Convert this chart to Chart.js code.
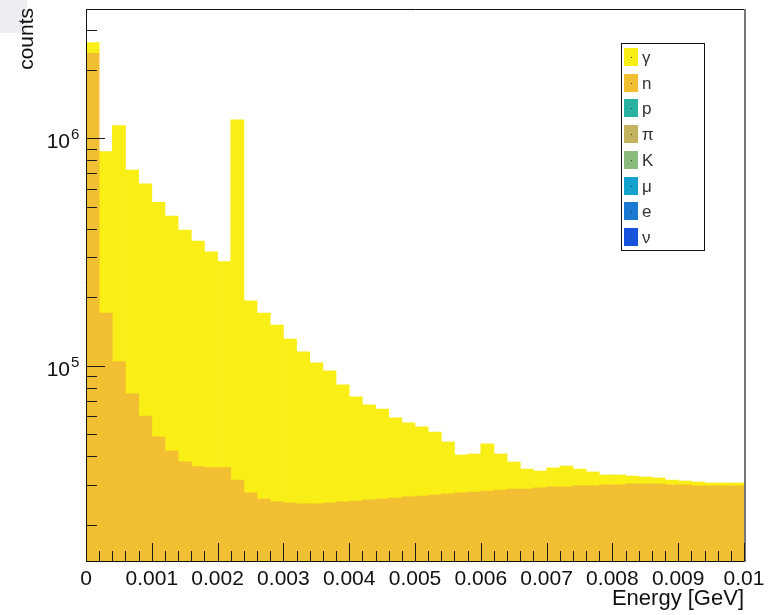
<!DOCTYPE html>
<html>
<head>
<meta charset="utf-8">
<title>Energy spectrum</title>
<script src="https://cdn.jsdelivr.net/npm/chart.js@4.4.1/dist/chart.umd.min.js"></script>
<style>
  html, body { margin: 0; padding: 0; background: #fff; }
  #wrap { position: relative; width: 769px; height: 615px; }
  #corner { position: absolute; left: 0; top: 0; width: 27px; height: 33px; background: #eceef1; }
  #c { position: absolute; left: 0; top: 0; }
</style>
</head>
<body>
<div id="wrap">
  <div id="corner"></div>
  <canvas id="c" width="769" height="615"></canvas>
</div>
<script>
  // histogram binning: 50 bins from 0 to 0.01 GeV
  var BIN_WIDTH = 0.0002;
  var N_BINS = 50;
  var Y_MIN = 1.384e4;
  var Y_MAX = 3.70e6;

  // counts per bin
  var neutronCounts = [
    2365000, 170500, 104100, 75100, 60100, 48700, 42200, 37800, 36000, 35600,
    35600, 31400, 27600, 25900, 25200, 24900, 24700, 24700, 24900, 25200,
    25400, 25700, 25900, 26200, 26500, 26700, 27000, 27300, 27600, 27800,
    28100, 28400, 28700, 28700, 29000, 29300, 29300, 29600, 29600, 29900,
    29900, 30200, 30200, 30200, 29900, 29900, 29600, 29600, 29600, 29600
  ];
  var gammaCounts = [
    268000, 702500, 1031900, 649900, 569900, 474300, 412800, 357200, 317000, 281400,
    251400, 1172600, 165400, 144600, 125800, 106100, 90200, 78100, 69900, 57100,
    47500, 41500, 38600, 32700, 29500, 27100, 24100, 18900, 12900, 13100,
    17200, 12500, 9000, 6400, 5400, 6200, 6900, 5500, 4500, 3200,
    3200, 2500, 2200, 1900, 1500, 1200, 1200, 900, 900, 900
  ];
  // species with no visible entries in this range
  var protonCounts = [];
  var pionCounts = [];
  var kaonCounts = [];
  var muonCounts = [];
  var electronCounts = [];
  var neutrinoCounts = [];

  var legendLabels = ['\u03b3', 'n', 'p', '\u03c0', 'K', '\u03bc', 'e', '\u03bd'];
  var legendColors = ['#f9ee16', '#f2bf33', '#2ab3a3', '#c4b35e', '#88bb7c', '#12a2cc', '#1b7bd3', '#1653dc'];

  var xTickValues = [0, 0.001, 0.002, 0.003, 0.004, 0.005, 0.006, 0.007, 0.008, 0.009, 0.01];
  var xTickLabels = ['0', '0.001', '0.002', '0.003', '0.004', '0.005', '0.006', '0.007', '0.008', '0.009', '0.01'];
  var yDecades = [4, 5, 6];
  var yLabelDecades = [5, 6];

  var FONT = '"Liberation Sans", Arial, Helvetica, sans-serif';

  var binCenters = [];
  for (var i = 0; i < N_BINS; i++) binCenters.push((i + 0.5) * BIN_WIDTH);

  function toPoints(counts) {
    return counts.map(function (v, i) { return { x: binCenters[i], y: v }; });
  }

  function makeSet(label, counts) {
    var idx = legendLabels.indexOf(label);
    return {
      label: label,
      data: toPoints(counts),
      backgroundColor: legendColors[idx],
      borderWidth: 0,
      barPercentage: 1,
      categoryPercentage: 1
    };
  }

  // stacking order: neutrons at the bottom, photons on top
  var datasets = [
    makeSet('n', neutronCounts),
    makeSet('\u03b3', gammaCounts),
    makeSet('p', protonCounts),
    makeSet('\u03c0', pionCounts),
    makeSet('K', kaonCounts),
    makeSet('\u03bc', muonCounts),
    makeSet('e', electronCounts),
    makeSet('\u03bd', neutrinoCounts)
  ];

  function hline(ctx, x0, x1, y) {
    ctx.beginPath(); ctx.moveTo(x0, y); ctx.lineTo(x1, y); ctx.stroke();
  }
  function vline(ctx, x, y0, y1) {
    ctx.beginPath(); ctx.moveTo(x, y0); ctx.lineTo(x, y1); ctx.stroke();
  }

  // ROOT-like frame, inward ticks, labels and boxed legend
  var rootFrame = {
    id: 'rootFrame',
    afterDraw: function (chart) {
      var ctx = chart.ctx;
      var a = chart.chartArea;
      var xs = chart.scales.x;
      var ys = chart.scales.y;
      ctx.save();

      // frame
      ctx.lineWidth = 1;
      ctx.strokeStyle = '#111';
      hline(ctx, a.left, a.right + 1, a.top + 0.5);
      hline(ctx, a.left, a.right + 1, a.bottom + 0.5);
      vline(ctx, a.left + 0.5, a.top, a.bottom + 1);
      ctx.strokeStyle = '#777';
      ctx.lineWidth = 2;
      vline(ctx, a.right + 1, a.top, a.bottom + 1);

      // y ticks (log decades + minor)
      ctx.lineWidth = 1;
      ctx.strokeStyle = '#1a1a1a';
      yDecades.forEach(function (d) {
        for (var m = 1; m <= 9; m++) {
          var v = m * Math.pow(10, d);
          if (v <= Y_MIN || v >= Y_MAX) continue;
          var py = Math.round(ys.getPixelForValue(v)) + 0.5;
          hline(ctx, a.left, a.left + (m === 1 ? 19 : 11), py);
        }
      });

      // x ticks
      for (var k = 0; k <= N_BINS; k++) {
        var px = Math.round(xs.getPixelForValue(k * BIN_WIDTH)) + 0.5;
        vline(ctx, px, a.bottom, a.bottom - (k % 5 === 0 ? 18 : 10));
      }

      // x labels
      ctx.fillStyle = '#111';
      ctx.font = '21px ' + FONT;
      ctx.textAlign = 'center';
      ctx.textBaseline = 'alphabetic';
      xTickValues.forEach(function (v, i) {
        ctx.fillText(xTickLabels[i], xs.getPixelForValue(v), 585);
      });

      // y labels 10^d
      yLabelDecades.forEach(function (d) {
        var py = ys.getPixelForValue(Math.pow(10, d));
        ctx.font = '21px ' + FONT;
        ctx.textAlign = 'right';
        ctx.fillText('10', 70, py + 10);
        ctx.font = '15px ' + FONT;
        ctx.textAlign = 'left';
        ctx.fillText(String(d), 71, py + 1);
      });

      // axis titles
      ctx.font = '22px ' + FONT;
      ctx.textAlign = 'right';
      ctx.fillText('Energy [GeV]', a.right, 605);
      ctx.font = '21px ' + FONT;
      ctx.save();
      ctx.translate(33, 8);
      ctx.rotate(-Math.PI / 2);
      ctx.fillText('counts', 0, 0);
      ctx.restore();

      // legend box
      var lx = 621, ly = 43, lw = 83, lh = 207;
      ctx.fillStyle = '#fff';
      ctx.fillRect(lx, ly, lw, lh);
      ctx.strokeStyle = '#111';
      ctx.lineWidth = 1;
      ctx.strokeRect(lx + 0.5, ly + 0.5, lw, lh);
      ctx.font = '17px ' + FONT;
      ctx.textAlign = 'left';
      legendLabels.forEach(function (lab, i) {
        var ds = chart.data.datasets.filter(function (s) { return s.label === lab; })[0];
        var cy = 57 + i * 25.7;
        ctx.fillStyle = ds.backgroundColor;
        ctx.fillRect(624, Math.round(cy - 9), 14, 18);
        ctx.fillStyle = '#333';
        ctx.fillRect(631, Math.round(cy), 1, 1);
        ctx.fillText(lab, 642, cy + 6);
      });

      ctx.restore();
    }
  };

  new Chart(document.getElementById('c'), {
    type: 'bar',
    data: { datasets: datasets },
    options: {
      responsive: false,
      animation: false,
      devicePixelRatio: 1,
      layout: { padding: { left: 86, right: 25, top: 9, bottom: 54 } },
      plugins: { legend: { display: false }, tooltip: { enabled: false } },
      scales: {
        x: {
          type: 'linear', min: 0, max: 0.01, offset: false, stacked: true, display: false,
          ticks: { stepSize: 0.001 }
        },
        y: {
          type: 'logarithmic', min: Y_MIN, max: Y_MAX, stacked: true, display: false
        }
      }
    },
    plugins: [rootFrame]
  });
</script>
</body>
</html>
